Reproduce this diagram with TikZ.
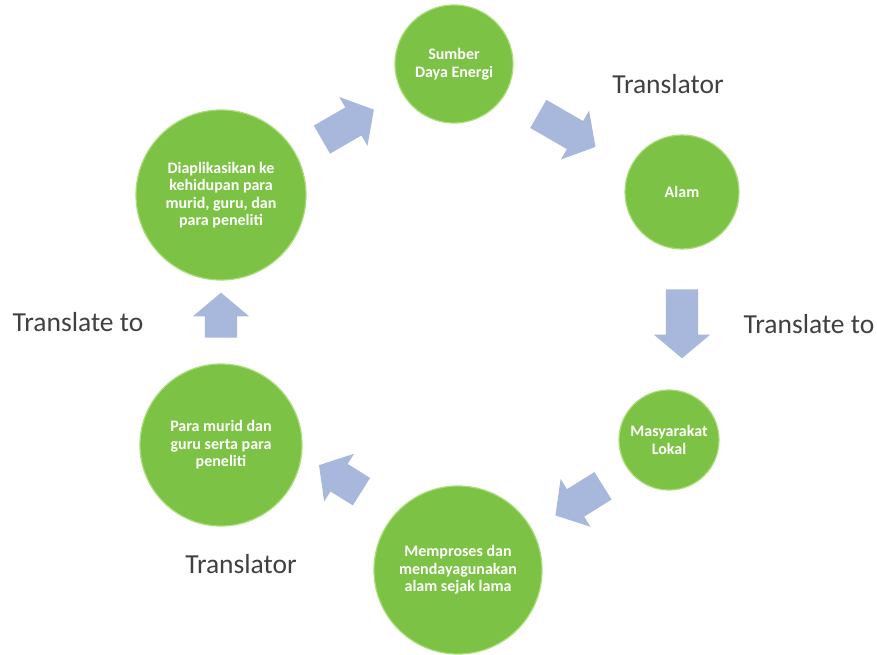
\documentclass[tikz,border=0pt]{standalone}
\usepackage{fontspec}
\setmainfont{Carlito}
\usepackage{tikz}
\usetikzlibrary{shapes.arrows}

\definecolor{leafgreen}{RGB}{124,194,68}
\definecolor{leafedge}{RGB}{170,220,120}
\definecolor{blockblue}{RGB}{168,184,220}
\definecolor{labelgray}{RGB}{64,64,64}

\tikzset{
  bubble/.style={circle, fill=leafgreen, draw=leafedge, line width=1.2pt, text=white, align=center, inner sep=0pt, font=\fontsize{16}{17.5}\selectfont\bfseries},
  blockarrow/.style={single arrow, fill=blockblue, draw=none, inner xsep=0pt, inner ysep=16pt, single arrow head extend=12pt, single arrow tip angle=100},
  flowlabel/.style={text=labelgray, font=\fontsize{27.5}{30}\selectfont}
}

\begin{document}
\begin{tikzpicture}[x=1pt,y=1pt,yscale=-1,xscale=1]
\useasboundingbox (0,0) rectangle (877,655);
\fill[white] (0,0) rectangle (877,655);
%Shape: Circle
\node[bubble, minimum size=118pt] (sumber) at (454,64) {Sumber\\Daya Energi};
\node[bubble, minimum size=114pt] (alam) at (682,192) {Alam};
\node[bubble, minimum size=100pt] (lokal) at (669,440) {Masyarakat\\Lokal};
\node[bubble, minimum size=168pt] (proses) at (458,570) {Memproses dan\\mendayagunakan\\alam sejak lama};
\node[bubble, minimum size=162pt] (murid) at (221,445) {Para murid dan\\guru serta para\\peneliti};
\node[bubble, minimum size=170pt] (terap) at (221,195) {Diaplikasikan ke\\kehidupan para\\murid, guru, dan\\para peneliti};
%Shape: Right Arrow
\node[blockarrow, rotate=30, minimum height=60pt] (a1) at (342,128) {};
\node[blockarrow, rotate=-30, minimum height=66pt] (a2) at (561,127) {};
\node[blockarrow, rotate=-90, minimum height=69pt] (a3) at (682,317) {};
\node[blockarrow, rotate=212, minimum height=56pt] (a4) at (585,497) {};
\node[blockarrow, rotate=148, minimum height=50pt] (a5) at (346,482) {};
\node[blockarrow, rotate=90, minimum height=45pt] (a6) at (221,322) {};
%Text
\node[flowlabel] (t1) at (668,84) {Translator};
\node[flowlabel] (t2) at (809,324) {Translate to};
\node[flowlabel] (t3) at (78,322) {Translate to};
\node[flowlabel] (t4) at (241,564) {Translator};
\end{tikzpicture}
\end{document}
